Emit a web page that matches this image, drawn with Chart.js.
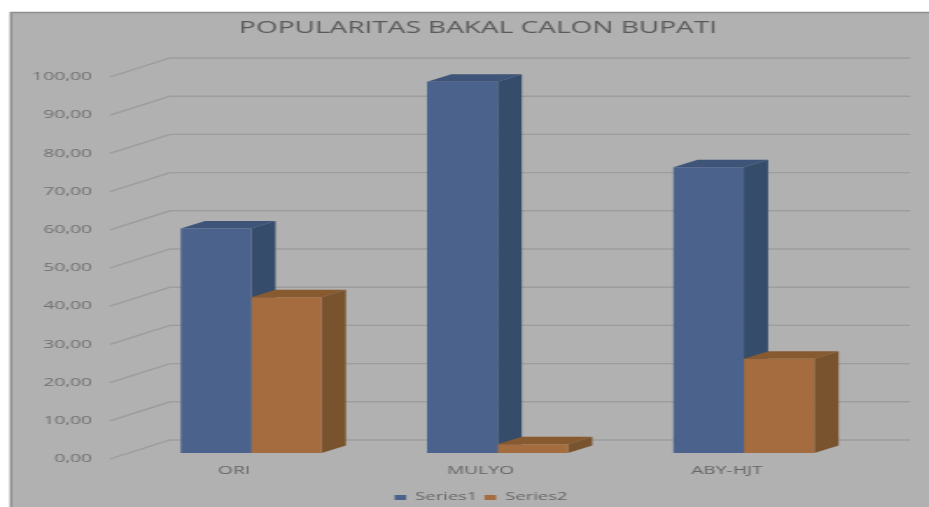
<!DOCTYPE html>
<html>
<head>
<meta charset="utf-8">
<title>Popularitas Bakal Calon Bupati</title>
<script src="https://cdn.jsdelivr.net/npm/chart.js@4/dist/chart.umd.min.js"></script>
<style>
    html, body { margin: 0; padding: 0; background: #fff; overflow: hidden; }
    /* the original picture is stretched sideways, so the whole canvas is too */
    #wrap { width: 531px; height: 507px; transform: scaleX(1.75); transform-origin: 0 0; }
</style>
</head>
<body>
<div id="wrap"><canvas id="chart" width="531" height="507"></canvas></div>
<script>
// Chart data
const categories = ['ORI', 'MULYO', 'ABY-HJT'];
const series1 = [58.8, 97.2, 74.8];
const series2 = [40.8, 2.3, 24.7];
const seriesNames = ['Series1', 'Series2'];

// Layout helpers (reference pixels -> canvas pixels)
const SX = 1.75;
const rx = v => v / SX;
const PAD_LEFT = 12;
const AREA_LEFT = rx(128);
const AREA_RIGHT = rx(867);
const LEGEND_PAD = 4;

// 3D depth of bars and of the back wall
const DEPTH_X = rx(24.3);
const DEPTH_Y = 7.5;

const colors = {
    s1: { front: '#4a628c', top: '#3e5478', side: '#364c6b' },
    s2: { front: '#a46c3f', top: '#875a30', side: '#78532d' },
    grid: '#9d9d9d',
    text: '#666666'
};

// Gray chart background with its border
const backgroundPlugin = {
    id: 'background',
    beforeDraw(chart) {
        const ctx = chart.ctx;
        ctx.save();
        ctx.fillStyle = '#ffffff';
        ctx.fillRect(0, 0, chart.width, chart.height);
        ctx.fillStyle = '#b1b1b1';
        ctx.fillRect(rx(11), 12, chart.width, chart.height);
        ctx.strokeStyle = '#8e8e8e';
        ctx.lineWidth = 1.5;
        ctx.beginPath();
        ctx.moveTo(rx(11), chart.height);
        ctx.lineTo(rx(11), 12.5);
        ctx.lineTo(chart.width, 12.5);
        ctx.stroke();
        ctx.restore();
    }
};

// Title and legend sit a bit off the plot centre in the original
const boxPlacementPlugin = {
    id: 'boxPlacement',
    afterLayout(chart) {
        const centerOn = (box, cx) => {
            const half = (box.right - box.left) / 2;
            box.left = cx - half;
            box.right = cx + half;
        };
        centerOn(chart.titleBlock, rx(478));
        centerOn(chart.legend, rx(481));
        chart.legend.top += 5.75;
        chart.legend.bottom += 5.75;
    }
};

// Gridlines on the back wall, with the slanted side-wall part
const wallGridPlugin = {
    id: 'wallGrid',
    beforeDatasetsDraw(chart) {
        const ctx = chart.ctx;
        const yScale = chart.scales.y;
        ctx.save();
        ctx.strokeStyle = colors.grid;
        ctx.lineWidth = 1.4;
        yScale.ticks.forEach(tick => {
            const py = yScale.getPixelForValue(tick.value);
            ctx.beginPath();
            ctx.moveTo(rx(110), py + 6);
            ctx.lineTo(rx(170), py - 13);
            ctx.lineTo(rx(910), py - 13);
            ctx.stroke();
        });
        ctx.restore();
    }
};

// Top and side faces of each column, drawn behind the front faces
const columns3dPlugin = {
    id: 'columns3d',
    beforeDatasetsDraw(chart) {
        const ctx = chart.ctx;
        const fill = (points, color) => {
            ctx.beginPath();
            ctx.moveTo(points[0][0], points[0][1]);
            points.slice(1).forEach(p => ctx.lineTo(p[0], p[1]));
            ctx.closePath();
            ctx.fillStyle = color;
            ctx.fill();
        };
        ctx.save();
        chart.data.labels.forEach((label, i) => {
            chart.data.datasets.forEach((ds, d) => {
                const bar = chart.getDatasetMeta(d).data[i];
                const left = bar.x - bar.width / 2;
                const right = bar.x + bar.width / 2;
                const top = bar.y;
                const base = bar.base;
                fill([[left, top], [left + DEPTH_X, top - DEPTH_Y], [right + DEPTH_X, top - DEPTH_Y], [right, top]], ds.topColor);
                fill([[right, top], [right + DEPTH_X, top - DEPTH_Y], [right + DEPTH_X, base - DEPTH_Y], [right, base]], ds.sideColor);
            });
        });
        ctx.restore();
    }
};

function formatValue(v) {
    return v.toFixed(2).replace('.', ',');
}

const ctx = document.getElementById('chart');

new Chart(ctx, {
    type: 'bar',
    data: {
        labels: categories,
        datasets: [{
            label: seriesNames[0],
            data: series1,
            backgroundColor: colors.s1.front,
            topColor: colors.s1.top,
            sideColor: colors.s1.side,
            borderWidth: 0
        }, {
            label: seriesNames[1],
            data: series2,
            backgroundColor: colors.s2.front,
            topColor: colors.s2.top,
            sideColor: colors.s2.side,
            borderWidth: 0
        }]
    },
    options: {
        responsive: false,
        animation: false,
        devicePixelRatio: 1,
        layout: {
            padding: { left: PAD_LEFT, right: 531 - AREA_RIGHT, top: 0, bottom: 0 }
        },
        datasets: {
            bar: {
                barPercentage: 1,
                categoryPercentage: 0.572
            }
        },
        scales: {
            x: {
                grid: { display: false, drawTicks: false },
                border: { display: false },
                afterFit: scale => { scale.height = 29.5; },
                ticks: {
                    padding: 11,
                    labelOffset: rx(-17),
                    color: colors.text,
                    font: { family: 'Open Sans', size: 11 }
                }
            },
            y: {
                min: 0,
                max: 100,
                grid: { display: false, drawTicks: false },
                border: { display: false },
                afterFit: scale => { scale.width = AREA_LEFT - PAD_LEFT; },
                ticks: {
                    stepSize: 10,
                    padding: 20.5,
                    labelOffset: 6,
                    color: '#707070',
                    font: { family: 'Open Sans', size: 11 },
                    callback: v => formatValue(v)
                }
            }
        },
        plugins: {
            title: {
                display: true,
                text: 'POPULARITAS BAKAL CALON BUPATI',
                color: '#5a5a5a',
                font: { family: 'Open Sans', size: 16, weight: 'normal' },
                padding: { top: 18.4, bottom: 33.4 }
            },
            legend: {
                position: 'bottom',
                labels: {
                    boxWidth: rx(11.6),
                    boxHeight: 5,
                    padding: LEGEND_PAD,
                    color: colors.text,
                    font: { family: 'Open Sans', size: 10.5 }
                }
            },
            tooltip: { enabled: false }
        }
    },
    plugins: [backgroundPlugin, boxPlacementPlugin, wallGridPlugin, columns3dPlugin]
});
</script>
</body>
</html>
